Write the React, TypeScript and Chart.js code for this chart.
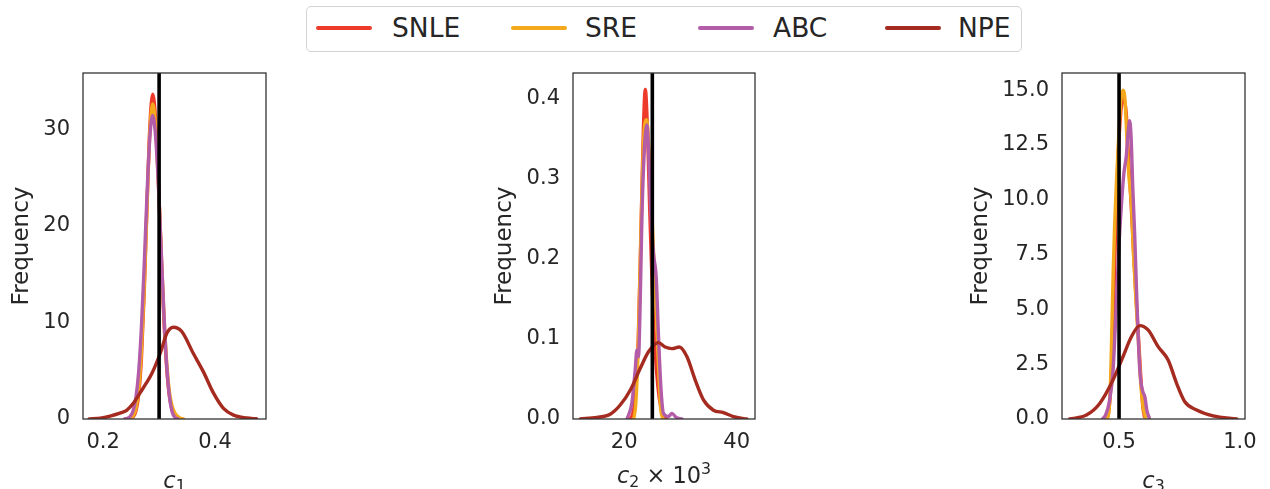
import React, { useEffect, useRef } from "react";
import { Chart, registerables } from "chart.js";

Chart.register(...registerables);

// ---------------- DATA ----------------
const SERIES = ["SNLE", "SRE", "ABC", "NPE"];
const COLORS = ["#EE3A2B", "#F4A81C", "#B35CA8", "#A52A1F"];
const TRUE_VALUES = [0.3, 25, 0.5];

// c1 panel
const C1_SNLE_X = [0.2485, 0.2535, 0.2585, 0.2635, 0.2685, 0.2735, 0.2785, 0.2835, 0.2885, 0.2935, 0.2985, 0.3035, 0.3085, 0.3135, 0.3185, 0.3235, 0.3285, 0.3335];
const C1_SNLE_Y = [0.04, 0.21, 0.82, 2.54, 6.4, 13.3, 22.2, 30.3, 33.6, 31.2, 25.0, 17.3, 10.3, 5.3, 2.34, 0.9, 0.3, 0.08];
const C1_SRE_X = [0.2485, 0.2535, 0.2585, 0.2635, 0.2685, 0.2735, 0.2785, 0.2835, 0.2885, 0.2935, 0.2985, 0.3035, 0.3085, 0.3135, 0.3185, 0.3235, 0.3285, 0.3335, 0.3385, 0.3435];
const C1_SRE_Y = [0.08, 0.32, 1.08, 3.06, 7.2, 13.9, 22.3, 29.7, 32.6, 30.4, 24.8, 17.6, 10.9, 5.9, 2.76, 1.3, 0.6, 0.25, 0.08, 0.02];
const C1_ABC_X = [0.2385, 0.2435, 0.2485, 0.2535, 0.2585, 0.2635, 0.2685, 0.2735, 0.2785, 0.2835, 0.2885, 0.2935, 0.2985, 0.3035, 0.3085, 0.3135, 0.3185, 0.3235, 0.3285, 0.3335];
const C1_ABC_Y = [0.01, 0.08, 0.28, 0.84, 2.19, 4.9, 9.6, 16.1, 23.4, 29.2, 31.4, 29.4, 24.5, 17.8, 11.0, 5.6, 2.3, 0.7, 0.15, 0.02];
const C1_NPE_X = [0.175, 0.195, 0.2125, 0.23, 0.242, 0.255, 0.266, 0.277, 0.287, 0.302, 0.314, 0.3256, 0.3405, 0.361, 0.379, 0.397, 0.415, 0.433, 0.457, 0.474];
const C1_NPE_Y = [0.0, 0.08, 0.3, 0.6, 0.9, 1.7, 2.7, 3.7, 4.7, 6.8, 8.9, 9.5, 9.05, 6.8, 4.9, 2.7, 1.1, 0.4, 0.1, 0.02];

// c2 panel (x 10^3)
const C2_SNLE_X = [21.0, 21.5, 22.0, 22.5, 23.0, 23.4, 23.75, 24.1, 24.5, 25.0, 25.5, 26.0, 26.5, 27.0, 27.5];
const C2_SNLE_Y = [0, 0.006, 0.03, 0.10, 0.24, 0.36, 0.412, 0.37, 0.27, 0.16, 0.085, 0.04, 0.015, 0.004, 0];
const C2_SRE_X = [21.7, 22.07, 22.54, 22.96, 23.55, 24.0, 24.45, 24.85, 25.2, 25.6, 25.9, 26.2, 26.5, 26.9];
const C2_SRE_Y = [0, 0.02, 0.103, 0.228, 0.361, 0.374, 0.33, 0.27, 0.21, 0.15, 0.10, 0.05, 0.012, 0];
const C2_ABC_X = [20.5, 21.37, 21.95, 22.25, 22.54, 22.84, 23.14, 23.55, 24.03, 24.38, 24.73, 25.2, 25.68, 26.1, 26.52, 26.98, 27.87, 28.47, 29.24, 30.25];
const C2_ABC_Y = [0, 0.02, 0.061, 0.086, 0.078, 0.145, 0.249, 0.332, 0.3675, 0.328, 0.261, 0.207, 0.178, 0.103, 0.04, 0.007, 0.003, 0.007, 0.002, 0];
const C2_NPE_X = [12.19, 15.15, 17.51, 19.29, 21.07, 22.84, 24.32, 26.1, 27.28, 28.47, 29.82, 31.14, 32.61, 34.09, 35.86, 37.64, 39.41, 41.8];
const C2_NPE_Y = [0, 0.002, 0.006, 0.0175, 0.036, 0.063, 0.084, 0.0955, 0.090, 0.088, 0.090, 0.078, 0.049, 0.024, 0.011, 0.008, 0.003, 0];

// c3 panel
const C3_SNLE_X = [0.448, 0.455, 0.465, 0.472, 0.48, 0.49, 0.50, 0.515, 0.53, 0.54, 0.55, 0.56, 0.57, 0.58, 0.59, 0.598, 0.605];
const C3_SNLE_Y = [0, 0.2, 1.3, 3.2, 6.2, 10.2, 12.8, 14.6, 13.9, 11.7, 9.8, 7.6, 5.6, 3.8, 1.9, 0.6, 0.1];
const C3_SRE_X = [0.450, 0.458, 0.465, 0.470, 0.476, 0.482, 0.490, 0.500, 0.508, 0.5166, 0.525, 0.532, 0.540, 0.551, 0.560, 0.570, 0.579, 0.590, 0.600, 0.610];
const C3_SRE_Y = [0, 0.3, 1.8, 4.0, 6.8, 8.9, 11.0, 13.2, 14.6, 15.0, 14.5, 12.9, 11.2, 9.8, 7.5, 5.4, 3.75, 1.6, 0.5, 0.05];
const C3_ABC_X = [0.432, 0.445, 0.460, 0.475, 0.489, 0.500, 0.510, 0.520, 0.530, 0.537, 0.544, 0.550, 0.557, 0.565, 0.575, 0.586, 0.597, 0.607, 0.615, 0.625];
const C3_ABC_Y = [0, 0.2, 0.8, 2.2, 5.3, 8.0, 9.8, 11.2, 12.0, 13.0, 13.6, 12.8, 10.5, 8.3, 5.0, 2.2, 1.3, 1.0, 0.4, 0.05];
const C3_NPE_X = [0.2957, 0.365, 0.42, 0.475, 0.5166, 0.551, 0.586, 0.62, 0.6616, 0.703, 0.738, 0.772, 0.821, 0.889, 0.987];
const C3_NPE_Y = [0, 0.18, 0.71, 1.78, 2.85, 3.75, 4.26, 4.06, 3.3, 2.69, 1.63, 0.79, 0.41, 0.14, 0];

// axes ranges and ticks
const X_RANGES = [[0.164, 0.491], [10.9, 43.25], [0.264, 1.021]];
const Y_MAX = [35.8, 0.4325, 15.78];
const C1_X_TICKS = [0.2, 0.4];
const C1_X_LABELS = ["0.2", "0.4"];
const C1_Y_TICKS = [0, 10, 20, 30];
const C1_Y_LABELS = ["0", "10", "20", "30"];
const C2_X_TICKS = [20, 40];
const C2_X_LABELS = ["20", "40"];
const C2_Y_TICKS = [0, 0.1, 0.2, 0.3, 0.4];
const C2_Y_LABELS = ["0.0", "0.1", "0.2", "0.3", "0.4"];
const C3_X_TICKS = [0.5, 1.0];
const C3_X_LABELS = ["0.5", "1.0"];
const C3_Y_TICKS = [0, 2.5, 5, 7.5, 10, 12.5, 15];
const C3_Y_LABELS = ["0.0", "2.5", "5.0", "7.5", "10.0", "12.5", "15.0"];
const Y_TITLE = "Frequency";
const X_TITLES = [
  [{ t: "c", it: true }, { t: "1", sub: true }],
  [{ t: "c", it: true }, { t: "2", sub: true }, { t: " × 10" }, { t: "3", sup: true }],
  [{ t: "c", it: true }, { t: "3", sub: true }],
];

// ---------------- LAYOUT ----------------
const FONT = "'DejaVu Sans', 'Liberation Sans', sans-serif";
const TEXT = "#262626";
const TOP = 60;
const HEIGHT = 429;
const PAD_TOP = 13;
const BOX_H = 346;
const PANEL_LAYOUT = [
  { left: 0, yWidth: 83, boxW: 183, titlePad: 8, xBaseline: 487.5 },
  { left: 480, yWidth: 93, boxW: 182, titlePad: 11, xBaseline: 483 },
  { left: 962, yWidth: 100, boxW: 183, titlePad: 5, xBaseline: 487.5 },
];
const LEGEND_SWATCH_LEFT = [315, 510, 697, 884];
const LEGEND_TEXT_LEFT = [392, 585, 773, 958];

const pts = (xs: number[], ys: number[]) => xs.map((x, i) => ({ x, y: ys[i] }));

const PANEL_DATA = [
  { series: [[C1_SNLE_X, C1_SNLE_Y], [C1_SRE_X, C1_SRE_Y], [C1_ABC_X, C1_ABC_Y], [C1_NPE_X, C1_NPE_Y]], xt: C1_X_TICKS, xl: C1_X_LABELS, yt: C1_Y_TICKS, yl: C1_Y_LABELS },
  { series: [[C2_SNLE_X, C2_SNLE_Y], [C2_SRE_X, C2_SRE_Y], [C2_ABC_X, C2_ABC_Y], [C2_NPE_X, C2_NPE_Y]], xt: C2_X_TICKS, xl: C2_X_LABELS, yt: C2_Y_TICKS, yl: C2_Y_LABELS },
  { series: [[C3_SNLE_X, C3_SNLE_Y], [C3_SRE_X, C3_SRE_Y], [C3_ABC_X, C3_ABC_Y], [C3_NPE_X, C3_NPE_Y]], xt: C3_X_TICKS, xl: C3_X_LABELS, yt: C3_Y_TICKS, yl: C3_Y_LABELS },
];

const boxPlugin = {
  id: "box",
  afterDraw(chart: any) {
    const { ctx, chartArea: a } = chart;
    ctx.save();
    ctx.strokeStyle = "#333333";
    ctx.lineWidth = 1.3;
    ctx.strokeRect(a.left, a.top, a.right - a.left, a.bottom - a.top);
    ctx.restore();
  },
};

function makeXTitlePlugin(parts: any[], baseline: number) {
  const size = 22.5;
  const small = size * 0.7;
  return {
    id: "xtitle",
    afterDraw(chart: any) {
      const { ctx, chartArea: a } = chart;
      ctx.save();
      ctx.fillStyle = TEXT;
      ctx.textBaseline = "alphabetic";
      ctx.textAlign = "left";
      const fontOf = (p: any) =>
        `${p.it ? "italic " : ""}${p.sub || p.sup ? small : size}px ${FONT}`;
      let total = 0;
      const widths = parts.map((p) => {
        ctx.font = fontOf(p);
        const w = ctx.measureText(p.t).width;
        total += w;
        return w;
      });
      let x = (a.left + a.right) / 2 - total / 2;
      parts.forEach((p, i) => {
        ctx.font = fontOf(p);
        let y = baseline;
        if (p.sub) y += size * 0.16;
        if (p.sup) y -= size * 0.38;
        ctx.fillText(p.t, x, y);
        x += widths[i];
      });
      ctx.restore();
    },
  };
}

function Panel({ idx }: { idx: number }) {
  const ref = useRef<HTMLCanvasElement>(null);
  const L = PANEL_LAYOUT[idx];
  const D = PANEL_DATA[idx];
  const width = L.yWidth + L.boxW + 25;
  useEffect(() => {
    const yMax = Y_MAX[idx];
    const truth = TRUE_VALUES[idx];
    const datasets: any[] = D.series.map(([xs, ys], i) => ({
      label: SERIES[i],
      data: pts(xs as number[], ys as number[]),
      borderColor: COLORS[i],
      backgroundColor: COLORS[i],
      borderWidth: 3.4,
      pointRadius: 0,
      fill: false,
      cubicInterpolationMode: "monotone",
      borderJoinStyle: "round",
      borderCapStyle: "round",
      order: 4 - i,
    }));
    datasets.push({
      label: "true",
      data: [{ x: truth, y: 0 }, { x: truth, y: yMax }],
      borderColor: "#000000",
      borderWidth: 3.6,
      pointRadius: 0,
      fill: false,
      order: 0,
    });
    const tickFont = { family: FONT, size: 21 };
    const zeroPad = (s: any) => {
      s.paddingTop = 0;
      s.paddingBottom = 0;
      s.paddingLeft = 0;
      s.paddingRight = 0;
    };
    const chart = new Chart(ref.current as HTMLCanvasElement, {
      type: "line",
      data: { datasets },
      options: {
        responsive: false,
        animation: false,
        events: [],
        layout: { padding: { top: PAD_TOP, right: 25, left: 0, bottom: 0 } },
        plugins: { legend: { display: false }, tooltip: { enabled: false } },
        scales: {
          x: {
            type: "linear",
            min: X_RANGES[idx][0],
            max: X_RANGES[idx][1],
            grid: { display: false, drawTicks: false },
            border: { display: false },
            afterBuildTicks: (s: any) => {
              s.ticks = D.xt.map((v) => ({ value: v }));
            },
            afterFit: (s: any) => {
              s.height = HEIGHT - PAD_TOP - BOX_H;
              zeroPad(s);
            },
            ticks: {
              padding: 11,
              color: TEXT,
              font: tickFont,
              maxRotation: 0,
              autoSkip: false,
              callback: (_v: any, i: number) => D.xl[i],
            },
          },
          y: {
            type: "linear",
            min: 0,
            max: yMax,
            grid: { display: false, drawTicks: false },
            border: { display: false },
            afterBuildTicks: (s: any) => {
              s.ticks = D.yt.map((v) => ({ value: v }));
            },
            afterFit: (s: any) => {
              s.width = L.yWidth;
              zeroPad(s);
            },
            ticks: {
              padding: 13,
              color: TEXT,
              font: tickFont,
              autoSkip: false,
              callback: (_v: any, i: number) => D.yl[i],
            },
            title: {
              display: true,
              text: Y_TITLE,
              color: TEXT,
              font: { family: FONT, size: 23 },
              padding: { top: L.titlePad, bottom: 0 },
            },
          },
        },
      } as any,
      plugins: [boxPlugin, makeXTitlePlugin(X_TITLES[idx], L.xBaseline - TOP)],
    });
    return () => chart.destroy();
  }, []);
  return (
    <canvas
      ref={ref}
      width={width}
      height={HEIGHT}
      style={{ position: "absolute", left: L.left, top: TOP, width, height: HEIGHT }}
    />
  );
}

function Legend() {
  return (
    <div
      style={{
        position: "absolute",
        left: 306,
        top: 6,
        width: 716,
        height: 46,
        boxSizing: "border-box",
        border: "1px solid #d3d3d3",
        borderRadius: 5,
        background: "#fff",
        fontFamily: FONT,
        fontSize: 26.5,
        color: TEXT,
      }}
    >
      {SERIES.map((s, i) => (
        <React.Fragment key={s}>
          <div
            style={{
              position: "absolute",
              left: LEGEND_SWATCH_LEFT[i] - 306,
              top: 19,
              width: 56,
              height: 4,
              borderRadius: 2,
              background: COLORS[i],
            }}
          />
          <div
            style={{
              position: "absolute",
              left: LEGEND_TEXT_LEFT[i] - 306 - 1,
              top: 6,
              lineHeight: "30px",
              whiteSpace: "nowrap",
            }}
          >
            {s}
          </div>
        </React.Fragment>
      ))}
    </div>
  );
}

export default function App() {
  return (
    <div style={{ position: "absolute", left: 0, top: 0, width: 1270, height: 489, background: "#fff", overflow: "hidden" }}>
      <Panel idx={0} />
      <Panel idx={1} />
      <Panel idx={2} />
      <Legend />
    </div>
  );
}
